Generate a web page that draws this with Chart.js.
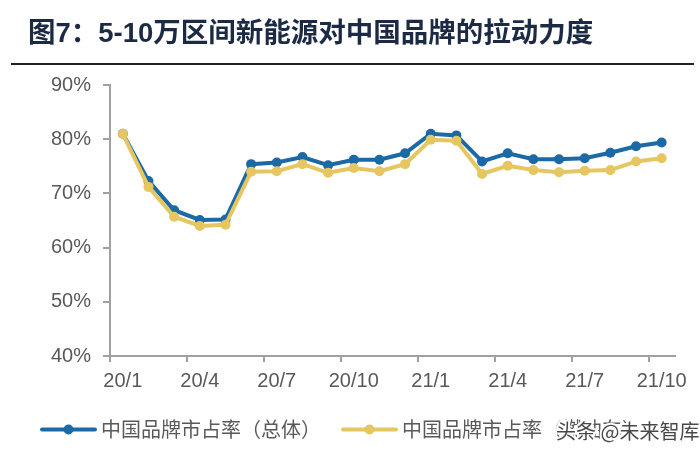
<!DOCTYPE html>
<html>
<head>
<meta charset="utf-8">
<script src="https://cdn.jsdelivr.net/npm/chart.js@4"></script>
<style>
html,body{margin:0;padding:0;background:#fff;}
#wrap{width:700px;height:456px;position:relative;}
</style>
</head>
<body>
<div id="wrap"><canvas id="c" width="700" height="456"></canvas></div>
<script>
const titleText = '图7：5-10万区间新能源对中国品牌的拉动力度';
const months = ['20/1','20/2','20/3','20/4','20/5','20/6','20/7','20/8','20/9','20/10','20/11','20/12',
                '21/1','21/2','21/3','21/4','21/5','21/6','21/7','21/8','21/9','21/10'];
const seriesNames = ['中国品牌市占率（总体）','中国品牌市占率（燃油车）'];
const totalShare = [81.0,72.3,66.9,65.1,65.2,75.4,75.7,76.7,75.2,76.2,76.2,77.4,81.0,80.7,75.9,77.4,76.3,76.3,76.5,77.5,78.7,79.4];
const otherShare = [81.0,71.2,65.7,64.0,64.2,74.0,74.1,75.4,73.8,74.7,74.1,75.4,79.9,79.7,73.6,75.1,74.3,73.9,74.2,74.3,75.9,76.5];
const yTicks = [40,50,60,70,80,90];
const watermark = '头条 @未来智库';

const BLUE = '#1B6AA6';
const YELLOW = '#E6C660';
const AXIS = '#A0A0A0';
const TXT = '#595959';

const decor = {
  id: 'decor',
  afterDraw(chart) {
    const ctx = chart.ctx;
    ctx.save();
    // title
    ctx.fillStyle = '#1C2A45';
    ctx.font = 'bold 27.5px "Liberation Sans", "Noto Sans CJK SC", sans-serif';
    ctx.textBaseline = 'middle';
    ctx.textAlign = 'left';
    ctx.fillText(titleText, 28, 34);
    ctx.fillStyle = '#222';
    ctx.fillRect(11, 63, 683, 2);
    // legend
    const items = [
      {x: 42, color: BLUE, text: seriesNames[0]},
      {x: 343, color: YELLOW, text: seriesNames[1]}
    ];
    const ly = 429.5;
    items.forEach(it => {
      ctx.strokeStyle = it.color;
      ctx.lineWidth = 4;
      ctx.lineCap = 'round';
      ctx.beginPath();
      ctx.moveTo(it.x, ly);
      ctx.lineTo(it.x + 53, ly);
      ctx.stroke();
      ctx.fillStyle = it.color;
      ctx.beginPath();
      ctx.arc(it.x + 26.5, ly, 5, 0, Math.PI * 2);
      ctx.fill();
      ctx.fillStyle = TXT;
      ctx.font = '20px "Noto Sans CJK SC", sans-serif';
      ctx.textBaseline = 'middle';
      ctx.fillText(it.text, it.x + 59, ly);
    });
    // watermark
    ctx.font = '20px "Noto Sans CJK SC", sans-serif';
    ctx.lineWidth = 4;
    ctx.strokeStyle = 'rgba(255,255,255,0.95)';
    ctx.strokeText(watermark, 556, 431);
    ctx.fillStyle = 'rgba(40,40,40,0.85)';
    ctx.fillText(watermark, 556, 431);
    ctx.restore();
  }
};

new Chart(document.getElementById('c'), {
  type: 'line',
  data: {
    labels: months,
    datasets: [
      {label: seriesNames[0], data: totalShare, borderColor: BLUE, backgroundColor: BLUE,
       pointBackgroundColor: BLUE, pointBorderColor: BLUE, borderWidth: 4, pointRadius: 5,
       pointBorderWidth: 0, tension: 0, order: 1},
      {label: seriesNames[1], data: otherShare, borderColor: YELLOW, backgroundColor: YELLOW,
       pointBackgroundColor: YELLOW, pointBorderColor: YELLOW, borderWidth: 4, pointRadius: 5,
       pointBorderWidth: 0, tension: 0, order: 0}
    ]
  },
  options: {
    responsive: false,
    animation: false,
    devicePixelRatio: 1,
    layout: {padding: {left: 0, right: 25.5, top: 85, bottom: 0}},
    plugins: {legend: {display: false}, tooltip: {enabled: false}, title: {display: false}},
    scales: {
      x: {
        type: 'category',
        offset: true,
        grid: {
          offset: true, drawOnChartArea: false, drawTicks: true, tickLength: 6, lineWidth: 2,
          color: (c) => (c.index % 3 === 0 ? AXIS : 'rgba(0,0,0,0)')
        },
        border: {display: true, color: AXIS, width: 2},
        ticks: {
          autoSkip: false, maxRotation: 0, minRotation: 0, padding: 7,
          color: TXT, font: {family: '"Liberation Sans", Arial, sans-serif', size: 20},
          callback: function(v, i) { return i % 3 === 0 ? months[i] : ''; }
        },
        afterFit(scale) { scale.height = 100; }
      },
      y: {
        min: yTicks[0], max: yTicks[yTicks.length - 1],
        afterBuildTicks(scale) { scale.ticks = yTicks.map(v => ({value: v})); },
        grid: {drawOnChartArea: false, drawTicks: true, tickLength: 7, color: AXIS, lineWidth: 2},
        border: {display: true, color: AXIS, width: 2},
        ticks: {
          padding: 12, color: TXT,
          font: {family: '"Liberation Sans", Arial, sans-serif', size: 20},
          callback: (v) => v + '%'
        },
        afterFit(scale) { scale.width = 110; }
      }
    }
  },
  plugins: [decor]
});
</script>
</body>
</html>
